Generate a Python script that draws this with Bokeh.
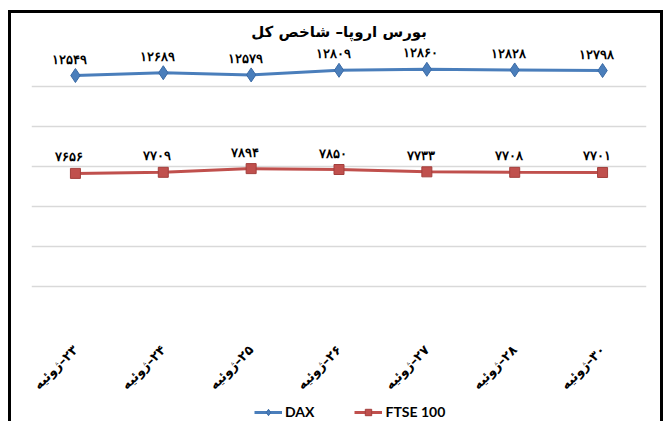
from math import pi
from bokeh.plotting import figure
from bokeh.layouts import column
from bokeh.models import ColumnDataSource, LabelSet, Legend, LegendItem, Range1d, FixedTicker
from bokeh.embed import file_html
from bokeh.resources import INLINE

title_text = "بورس اروپا– شاخص کل"
month = "ژوئیه"
days = ["۲۳", "۲۴", "۲۵", "۲۶", "۲۷", "۲۸", "۳۰"]
dax = [12549, 12689, 12579, 12809, 12860, 12828, 12798]
ftse = [7656, 7709, 7894, 7850, 7733, 7708, 7701]
grid_ticks = [0, 2000, 4000, 6000, 8000, 10000, 12000, 14000]

FA = str.maketrans("0123456789", "۰۱۲۳۴۵۶۷۸۹")
def fa(n):
    return str(n).translate(FA)

cats = [month + "\u200e–" + d for d in days]

src = ColumnDataSource(dict(
    cat=cats, dax=dax, ftse=ftse,
    dax_lbl=[fa(v) for v in dax], ftse_lbl=[fa(v) for v in ftse],
))

blue = "#4a7ebb"
red = "#c0504d"

p = figure(frame_width=615, frame_height=280, x_range=cats, y_range=Range1d(0, 14000),
           output_backend="svg", toolbar_location=None,
           min_border_left=23, min_border_right=17, min_border_top=36, min_border_bottom=72)
p.margin = (10, 0, 0, 8)
p.styles = {"box-shadow": "inset 3px 3px 0 0 #000, inset -3px 0 0 0 #000"}

p.title.text = title_text
p.title.align = "center"
p.title.text_font = "DejaVu Sans"
p.title.text_font_size = "15px"
p.title.text_font_style = "bold"
p.title.text_color = "#000000"
p.title.standoff = 12

p.outline_line_color = None
p.background_fill_color = "white"
p.border_fill_color = None

p.yaxis.visible = False
p.xgrid.grid_line_color = None
p.ygrid.ticker = FixedTicker(ticks=grid_ticks)
p.ygrid.grid_line_color = "#d9d9d9"
p.ygrid.grid_line_width = 1.5

ax = p.xaxis[0]
ax.axis_line_color = None
ax.major_tick_line_color = None
ax.minor_tick_line_color = None
ax.major_tick_out = 0
ax.major_tick_in = 0
ax.major_label_orientation = pi / 4
ax.major_label_text_font = "DejaVu Sans"
ax.major_label_text_font_size = "13px"
ax.major_label_text_font_style = "bold"
ax.major_label_text_color = "#000000"
ax.major_label_standoff = 21

p.line(x="cat", y="dax", source=src, line_color=blue, line_width=3)
p.scatter(x="cat", y="dax", source=src, marker="diamond", size=14,
          fill_color=blue, line_color="#3a6aa5", line_width=1)
p.line(x="cat", y="ftse", source=src, line_color=red, line_width=3)
p.scatter(x="cat", y="ftse", source=src, marker="square", size=10,
          fill_color=red, line_color="#a33f3c", line_width=1)

for col, yc in (("dax_lbl", "dax"), ("ftse_lbl", "ftse")):
    p.add_layout(LabelSet(x="cat", y=yc, text=col, source=src,
                          text_align="center", text_baseline="bottom",
                          x_offset=-6, y_offset=9,
                          text_font="DejaVu Sans", text_font_size="13px",
                          text_font_style="bold", text_color="#000000"))

# legend strip below the chart (same series, drawn outside its own view)
q = figure(width=655, height=22, x_range=cats, y_range=Range1d(0, 1),
           output_backend="svg", toolbar_location=None,
           min_border_left=0, min_border_right=0, min_border_top=0, min_border_bottom=0)
q.margin = (0, 0, 0, 8)
q.styles = {"box-shadow": "inset 3px 0 0 0 #000, inset -3px 0 0 0 #000"}
q.axis.visible = False
q.grid.grid_line_color = None
q.outline_line_color = None
q.background_fill_color = "white"
q.border_fill_color = None
l1 = q.line(x="cat", y="dax", source=src, line_color=blue, line_width=3)
m1 = q.scatter(x="cat", y="dax", source=src, marker="diamond", size=12,
               fill_color=blue, line_color="#3a6aa5", line_width=1)
l2 = q.line(x="cat", y="ftse", source=src, line_color=red, line_width=3)
m2 = q.scatter(x="cat", y="ftse", source=src, marker="square", size=10,
               fill_color=red, line_color="#a33f3c", line_width=1)

legend = Legend(items=[LegendItem(label="DAX", renderers=[l1, m1]),
                       LegendItem(label="FTSE 100", renderers=[l2, m2])],
                orientation="horizontal", location=(223, 2),
                label_text_font="Lato", label_text_font_size="14px",
                label_text_font_style="bold", label_text_color="#000000",
                border_line_color=None, background_fill_alpha=0,
                glyph_width=28, glyph_height=16, label_height=16,
                spacing=40, padding=0, margin=0, label_standoff=3)
q.add_layout(legend, "center")

open("out.html", "w").write(file_html(column(p, q, spacing=0), INLINE))
